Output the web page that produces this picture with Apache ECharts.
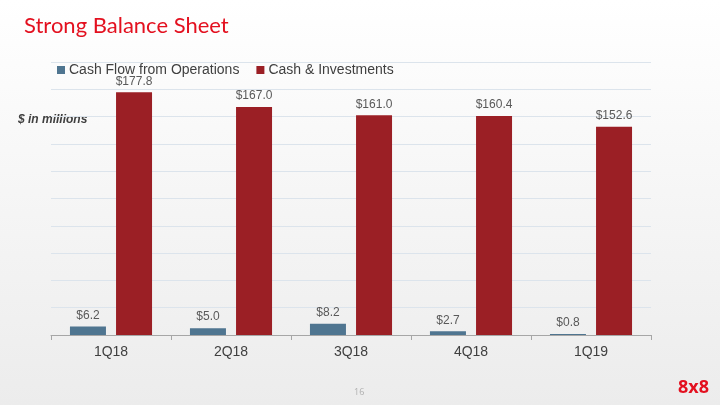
<!DOCTYPE html>
<html><head><meta charset="utf-8">
<script src="https://cdn.jsdelivr.net/npm/echarts@6/dist/echarts.min.js"></script>
<style>html,body{margin:0;padding:0;}#c{width:720px;height:405px;}</style>
</head><body><div id="c"></div>
<script>
const categories = ['1Q18','2Q18','3Q18','4Q18','1Q19'];
const cashFlow = [6.2, 5.0, 8.2, 2.7, 0.8];
const cashInv = [177.8, 167.0, 161.0, 160.4, 152.6];
const seriesNames = ['Cash Flow from Operations', 'Cash & Investments'];

const chart = echarts.init(document.getElementById('c'), null, {renderer:'canvas'});
const lbl = {show:true, position:'top', distance:5, color:'#595959', fontSize:12, fontFamily:'Liberation Sans, Arial', formatter: p => '$' + p.value.toFixed(1)};
chart.setOption({
  backgroundColor: new echarts.graphic.LinearGradient(0,0,0,1,[{offset:0,color:'#ffffff'},{offset:1,color:'#ececec'}]),
  animation:false,
  title:{text:'Strong Balance Sheet', left:19, top:10, textStyle:{color:'#e3101f', fontSize:22, fontWeight:'normal', fontFamily:'Lato'}},
  legend:{left:52, top:58, itemWidth:8, itemHeight:8, itemGap:17, icon:'rect',
    textStyle:{color:'#404040', fontSize:14, fontFamily:'Liberation Sans, Arial', padding:[0,0,0,-1]},
    data:seriesNames},
  grid:{left:51, right:69, top:62, bottom:70},
  xAxis:{type:'category', data:categories,
    axisLine:{lineStyle:{color:'#a6a6a6', width:1}},
    axisTick:{show:true, length:5, lineStyle:{color:'#a6a6a6'}},
    axisLabel:{color:'#404040', fontSize:14, fontFamily:'Liberation Sans, Arial', margin:10}},
  yAxis:{type:'value', min:0, max:200, interval:20, axisLabel:{show:false}, axisLine:{show:false}, axisTick:{show:false},
    splitLine:{lineStyle:{color:'#dce4ec', width:1}}},
  series:[
    {name:seriesNames[0], type:'bar', data:cashFlow, barWidth:'30%', barGap:'28%', itemStyle:{color:'#4f7590'}, label:lbl},
    {name:seriesNames[1], type:'bar', data:cashInv, barWidth:'30%', barGap:'28%', itemStyle:{color:'#9b1f25'}, label:lbl}
  ],
  graphic:[
    {type:'text', left:18, top:114, style:{text:'$ in millions', fill:'#404040', fontSize:12, fontStyle:'italic', fontWeight:'bold', fontFamily:'Liberation Sans'}},
    {type:'text', left:354, top:388, style:{text:'16', fill:'#b0b0b0', fontSize:9, fontFamily:'Open Sans'}},
    {type:'text', left:678, top:379, style:{text:'8x8', fill:'#e3101f', fontSize:18, fontWeight:'bold', fontFamily:'Open Sans'}}
  ]
});
</script></body></html>
